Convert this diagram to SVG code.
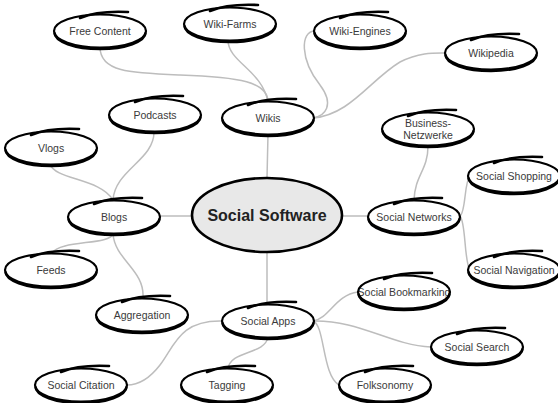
<svg xmlns="http://www.w3.org/2000/svg" xmlns:xlink="http://www.w3.org/1999/xlink" width="558" height="403" viewBox="0 0 558 403">
<style>
.bg{fill:#ffffff}
.lbl{font-family:"Liberation Sans",Arial,sans-serif;font-size:10.5px;fill:#3a3a3a;text-anchor:middle}
.main{font-family:"Liberation Sans",Arial,sans-serif;font-size:16px;font-weight:bold;fill:#222;text-anchor:middle}
.conn path{fill:none;stroke:#bdbdbd;stroke-width:1.5;stroke-linecap:round}
.ring{fill:none;stroke:#000;stroke-width:2.2}
.ringb{fill:none;stroke:#000;stroke-width:2.6}
.swoosh{fill:none;stroke:#000;stroke-width:2.6;stroke-linecap:round}
.fill{fill:#fff}
</style>
<defs>
<ellipse id="f" class="fill" cx="0" cy="0" rx="46" ry="16.5"/>
<g id="r">
<ellipse class="ring" cx="0" cy="0" rx="46" ry="16.5"/>
<path class="ringb" d="M-45.5,1.5 A45.5,16.5 0 0 0 45.5,1.5"/>
<path class="swoosh" d="M-20,-13 Q-2,-20.5 28,-19"/>
</g>
</defs>
<rect class="bg" x="0" y="0" width="558" height="403"/>
<g id="connectors" class="conn">
<path d="M267,178 L268,134"/>
<path d="M192,216 L159,216"/>
<path d="M342,216 L368,216"/>
<path d="M267,252 L267,304"/>
<path d="M100,47 C100,72 130,73 180,75 C240,77 268,82 268,102"/>
<path d="M228,40 C228,62 262,70 268,102"/>
<path d="M315,31 C300,31 300,60 320,85 C335,105 325,116 313,118"/>
<path d="M313,118 C350,115 370,80 400,62 C420,52 435,53 446,53"/>
<path d="M154,132 C154,160 115,170 113,200"/>
<path d="M50,164 C55,180 100,178 113,200"/>
<path d="M113,234 C110,245 60,240 52,253"/>
<path d="M113,234 C115,260 145,270 143,298"/>
<path d="M428,146 C428,170 415,175 414,200"/>
<path d="M460,216 C466,212 464,182 470,176"/>
<path d="M460,216 C466,222 464,262 470,270"/>
<path d="M313,321 C330,318 335,295 358,292"/>
<path d="M313,321 C360,320 390,345 431,347"/>
<path d="M313,321 C325,325 322,375 339,385"/>
<path d="M268,337 C265,355 230,350 228,369"/>
<path d="M222,321 C180,320 175,345 160,365 C150,378 140,385 127,385"/>
</g>
<g id="n-social-software">
<ellipse cx="267" cy="215" rx="75" ry="37" fill="#e8e8e8" stroke="#000" stroke-width="2.6"/>
<text class="main" x="267" y="221">Social Software</text>
</g>
<g id="n-free-content" transform="translate(100,31)"><use xlink:href="#f"/><text class="lbl" y="3.7">Free Content</text><use xlink:href="#r"/></g>
<g id="n-wiki-farms" transform="translate(230,24)"><use xlink:href="#f"/><text class="lbl" y="3.7">Wiki-Farms</text><use xlink:href="#r"/></g>
<g id="n-wiki-engines" transform="translate(360,31)"><use xlink:href="#f"/><text class="lbl" y="3.7">Wiki-Engines</text><use xlink:href="#r"/></g>
<g id="n-wikipedia" transform="translate(491,53)"><use xlink:href="#f"/><text class="lbl" y="3.7">Wikipedia</text><use xlink:href="#r"/></g>
<g id="n-podcasts" transform="translate(155,115)"><use xlink:href="#f"/><text class="lbl" y="3.7">Podcasts</text><use xlink:href="#r"/></g>
<g id="n-wikis" transform="translate(268,118)"><use xlink:href="#f"/><text class="lbl" y="3.7">Wikis</text><use xlink:href="#r"/></g>
<g id="n-business-netzwerke" transform="translate(428,129)"><use xlink:href="#f"/><text class="lbl" y="-2">Business-</text><text class="lbl" y="9.5">Netzwerke</text><use xlink:href="#r"/></g>
<g id="n-vlogs" transform="translate(51,148)"><use xlink:href="#f"/><text class="lbl" y="3.7">Vlogs</text><use xlink:href="#r"/></g>
<g id="n-social-shopping" transform="translate(514,176)"><use xlink:href="#f"/><text class="lbl" y="3.7">Social Shopping</text><use xlink:href="#r"/></g>
<g id="n-blogs" transform="translate(114,217)"><use xlink:href="#f"/><text class="lbl" y="3.7">Blogs</text><use xlink:href="#r"/></g>
<g id="n-social-networks" transform="translate(414,217)"><use xlink:href="#f"/><text class="lbl" y="3.7">Social Networks</text><use xlink:href="#r"/></g>
<g id="n-feeds" transform="translate(51,270)"><use xlink:href="#f"/><text class="lbl" y="3.7">Feeds</text><use xlink:href="#r"/></g>
<g id="n-social-navigation" transform="translate(514,270)"><use xlink:href="#f"/><text class="lbl" y="3.7">Social Navigation</text><use xlink:href="#r"/></g>
<g id="n-social-bookmarking" transform="translate(404,292)"><use xlink:href="#f"/><text class="lbl" y="3.7">Social Bookmarking</text><use xlink:href="#r"/></g>
<g id="n-aggregation" transform="translate(142,315)"><use xlink:href="#f"/><text class="lbl" y="3.7">Aggregation</text><use xlink:href="#r"/></g>
<g id="n-social-apps" transform="translate(268,321)"><use xlink:href="#f"/><text class="lbl" y="3.7">Social Apps</text><use xlink:href="#r"/></g>
<g id="n-social-search" transform="translate(477,347)"><use xlink:href="#f"/><text class="lbl" y="3.7">Social Search</text><use xlink:href="#r"/></g>
<g id="n-social-citation" transform="translate(81,385)"><use xlink:href="#f"/><text class="lbl" y="3.7">Social Citation</text><use xlink:href="#r"/></g>
<g id="n-tagging" transform="translate(227,385)"><use xlink:href="#f"/><text class="lbl" y="3.7">Tagging</text><use xlink:href="#r"/></g>
<g id="n-folksonomy" transform="translate(385,385)"><use xlink:href="#f"/><text class="lbl" y="3.7">Folksonomy</text><use xlink:href="#r"/></g>
</svg>
